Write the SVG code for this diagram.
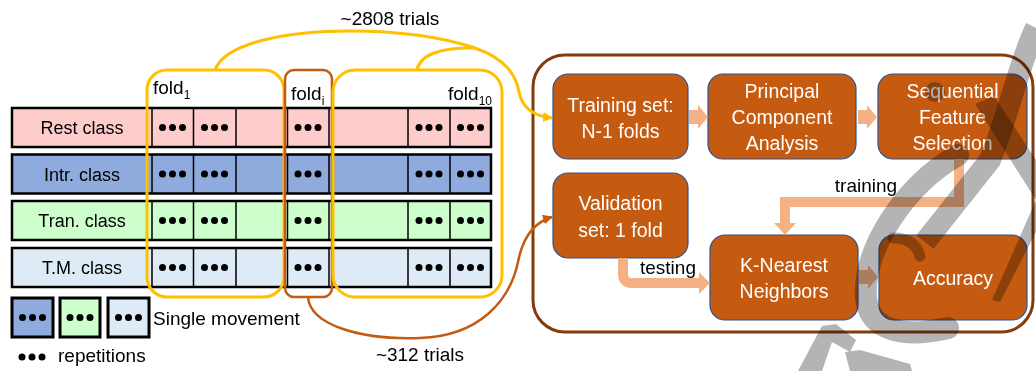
<svg xmlns="http://www.w3.org/2000/svg" width="1036" height="371" viewBox="0 0 1036 371">
<defs>
<style>
text{font-family:"Liberation Sans",Arial,sans-serif;}
.lbl{font-size:18px;fill:#000;text-anchor:middle;}
.t{font-size:19px;fill:#000;}
.bx{font-size:19.5px;fill:#fff;text-anchor:middle;}
.row{stroke:#000;stroke-width:2.5;}
.div{stroke:#000;stroke-width:1.5;}
.box{fill:#C55A11;stroke:#2F528F;stroke-width:1.2;}
.blk{fill:#F4B183;}
.wm{fill:#b4b4b4;mix-blend-mode:multiply;}
.wms{fill:none;stroke:#b4b4b4;mix-blend-mode:multiply;}
</style>
<marker id="ay" markerWidth="10" markerHeight="10" refX="9" refY="5" orient="auto" markerUnits="userSpaceOnUse" viewBox="0 0 10 10"><path d="M0,0 L10,5 L0,10 z" fill="#FFC000"/></marker>
<marker id="ao" markerWidth="10" markerHeight="10" refX="9" refY="5" orient="auto" markerUnits="userSpaceOnUse" viewBox="0 0 10 10"><path d="M0,0 L10,5 L0,10 z" fill="#C55A11"/></marker>
<g id="dots"><circle cx="-10" cy="0" r="3.5" fill="#000"/><circle cx="0" cy="0" r="3.5" fill="#000"/><circle cx="10" cy="0" r="3.5" fill="#000"/></g>
</defs>
<rect width="1036" height="371" fill="#fff"/>

<g id="row-rest">
<rect class="row" x="12" y="108" width="479" height="39" fill="#FFCCCC"/>
<path class="div" d="M152,108V147M193.5,108V147M236,108V147M287.5,108V147M329,108V147M408,108V147M450,108V147"/>
<use href="#dots" x="172.5" y="127.5"/><use href="#dots" x="214.5" y="127.5"/><use href="#dots" x="308" y="127.5"/><use href="#dots" x="429" y="127.5"/><use href="#dots" x="470.5" y="127.5"/>
<text class="lbl" x="82" y="134">Rest class</text>
</g>
<g id="row-intr">
<rect class="row" x="12" y="154.5" width="479" height="39" fill="#8FAADC"/>
<path class="div" d="M152,154.5V193.5M193.5,154.5V193.5M236,154.5V193.5M287.5,154.5V193.5M329,154.5V193.5M408,154.5V193.5M450,154.5V193.5"/>
<use href="#dots" x="172.5" y="174"/><use href="#dots" x="214.5" y="174"/><use href="#dots" x="308" y="174"/><use href="#dots" x="429" y="174"/><use href="#dots" x="470.5" y="174"/>
<text class="lbl" x="82" y="180.5">Intr. class</text>
</g>
<g id="row-tran">
<rect class="row" x="12" y="201" width="479" height="39" fill="#CCFFCC"/>
<path class="div" d="M152,201V240M193.5,201V240M236,201V240M287.5,201V240M329,201V240M408,201V240M450,201V240"/>
<use href="#dots" x="172.5" y="220.5"/><use href="#dots" x="214.5" y="220.5"/><use href="#dots" x="308" y="220.5"/><use href="#dots" x="429" y="220.5"/><use href="#dots" x="470.5" y="220.5"/>
<text class="lbl" x="82" y="227">Tran. class</text>
</g>
<g id="row-tm">
<rect class="row" x="12" y="248" width="479" height="39" fill="#DEEBF7"/>
<path class="div" d="M152,248V287M193.5,248V287M236,248V287M287.5,248V287M329,248V287M408,248V287M450,248V287"/>
<use href="#dots" x="172.5" y="267.5"/><use href="#dots" x="214.5" y="267.5"/><use href="#dots" x="308" y="267.5"/><use href="#dots" x="429" y="267.5"/><use href="#dots" x="470.5" y="267.5"/>
<text class="lbl" x="82" y="274">T.M. class</text>
</g>

<g id="fold1">
<rect x="147" y="70" width="137" height="227" rx="20" fill="none" stroke="#FFC000" stroke-width="3"/>
<text class="t" x="153" y="94">fold<tspan font-size="12" dy="5">1</tspan></text>
</g>
<g id="foldi">
<rect x="285" y="70" width="47" height="227" rx="9" fill="none" stroke="#C55A11" stroke-width="2.5"/>
<text class="t" x="291" y="100">fold<tspan font-size="12" dy="5">i</tspan></text>
</g>
<g id="fold10">
<rect x="333" y="70" width="169" height="227" rx="22" fill="none" stroke="#FFC000" stroke-width="3"/>
<text class="t" x="448" y="100">fold<tspan font-size="12" dy="5">10</tspan></text>
</g>

<g id="legend">
<rect x="12" y="298" width="41" height="39" fill="#8FAADC" stroke="#000" stroke-width="3"/>
<rect x="60" y="298" width="40" height="39" fill="#CCFFCC" stroke="#000" stroke-width="3"/>
<rect x="108" y="298" width="41" height="39" fill="#DEEBF7" stroke="#000" stroke-width="3"/>
<use href="#dots" x="32.5" y="317.5"/><use href="#dots" x="80" y="317.5"/><use href="#dots" x="128.5" y="317.5"/>
<text class="t" x="153" y="325">Single movement</text>
<use href="#dots" x="32" y="357"/>
<text class="t" x="58" y="362">repetitions</text>
</g>

<g id="container">
<rect x="533" y="55" width="500" height="277" rx="32" fill="none" stroke="#843C0C" stroke-width="3"/>
</g>
<g id="training-set">
<rect class="box" x="553" y="74" width="135" height="85" rx="15" stroke="#843C0C"/>
<text class="bx" x="620.5" y="112">Training set:</text>
<text class="bx" x="620.5" y="138">N-1 folds</text>
</g>
<g id="pca">
<rect class="box" x="708" y="74" width="148" height="85" rx="15"/>
<text class="bx" x="782" y="98">Principal</text>
<text class="bx" x="782" y="124">Component</text>
<text class="bx" x="782" y="150">Analysis</text>
</g>
<g id="sfs">
<rect class="box" x="878" y="74" width="149" height="85" rx="15"/>
<text class="bx" x="952.5" y="98">Sequential</text>
<text class="bx" x="952.5" y="124">Feature</text>
<text class="bx" x="952.5" y="150">Selection</text>
</g>
<g id="validation">
<rect class="box" x="553" y="173" width="135" height="85" rx="15"/>
<text class="bx" x="620.5" y="210">Validation</text>
<text class="bx" x="620.5" y="237">set: 1 fold</text>
</g>
<g id="knn">
<rect class="box" x="710" y="235" width="148" height="85" rx="15"/>
<text class="bx" x="784" y="272">K-Nearest</text>
<text class="bx" x="784" y="298">Neighbors</text>
</g>
<g id="accuracy">
<rect class="box" x="879" y="235" width="148" height="85" rx="15"/>
<text class="bx" x="953" y="285">Accuracy</text>
</g>

<g id="connectors">
<path d="M215,70 C225,42 290,31 350,31 C410,31 448,39 475,48 C506,59 516,75 519,92 C522,108 533,116 552,118" fill="none" stroke="#FFC000" stroke-width="3" marker-end="url(#ay)"/>
<path d="M417,70 C420,55 440,47 475,48" fill="none" stroke="#FFC000" stroke-width="3"/>
<text class="t" x="390" y="25" text-anchor="middle">~2808 trials</text>
<path d="M308,297 C310,325 360,340 420,338 C480,336 510,300 518,262 C523,236 535,222 552,217" fill="none" stroke="#C55A11" stroke-width="2.5" marker-end="url(#ao)"/>
<text class="t" x="420" y="361" text-anchor="middle">~312 trials</text>
<polygon class="blk" points="689,110 698,110 698,105 708,117 698,129 698,124 689,124"/>
<polygon class="blk" points="858,110 867,110 867,105 877,117 867,129 867,124 858,124"/>
<polygon class="blk" points="859,270 868,270 868,265 878,277 868,289 868,284 859,284"/>
<path d="M959,159 V202 H785 V224" fill="none" stroke="#F4B183" stroke-width="10"/>
<polygon class="blk" points="774,223 796,223 785,235"/>
<text class="t" x="866" y="192" text-anchor="middle" font-size="20">training</text>
<path d="M623,258 V274 Q623,283 632,283 H700" fill="none" stroke="#F4B183" stroke-width="10"/>
<polygon class="blk" points="699,272 699,294 710,283"/>
<text class="t" x="668" y="274" text-anchor="middle">testing</text>
</g>

<g id="watermark">
<path class="wms" stroke-width="22" d="M1036,28 C1020,60 1010,110 990,160 L925,242"/>
<circle class="wm" cx="935" cy="92" r="10"/>
<polygon class="wm" points="975,104 994,96 1036,160 1036,200"/>
<polygon class="wm" points="1036,200 1036,232 1000,302 992,300"/>
<path class="wms" stroke-width="22" stroke-linecap="round" d="M958,155 C905,185 862,250 866,298 C870,332 905,338 948,328"/>
<path class="wms" stroke-width="11" stroke-linecap="round" d="M893,238 Q915,238 920,256"/>
<polygon class="wm" points="798,371 822,326 836,324 856,340 850,352 832,342 822,371"/>
<polygon class="wm" points="845,352 860,350 910,364 912,371 850,371"/>
</g>
</svg>
